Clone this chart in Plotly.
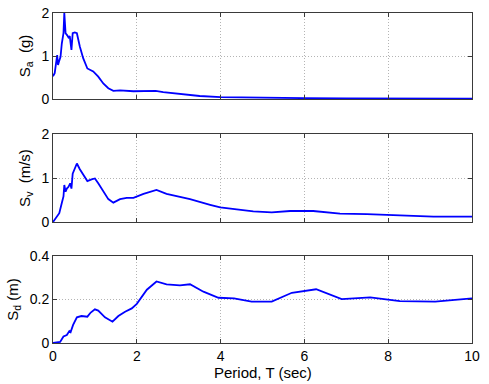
import plotly.graph_objects as go

period_sa = [0, 0.04, 0.10, 0.12, 0.14, 0.18, 0.21, 0.25, 0.27, 0.30, 0.34, 0.37, 0.40, 0.44, 0.47, 0.52,
             0.57, 0.64, 0.72, 0.82, 0.96, 1.08, 1.2, 1.32, 1.44, 1.6, 1.92, 2.31, 2.45, 2.63, 3.03, 3.5,
             4.0, 5.0, 6.0, 7.0, 8.0, 9.0, 10.0]
sa = [0.53, 0.6, 1.02, 0.79, 0.86, 0.98, 1.29, 1.53, 2.0, 1.53, 1.48, 1.43, 1.46, 1.14, 1.53, 1.55,
      1.53, 1.22, 0.95, 0.71, 0.64, 0.52, 0.36, 0.25, 0.19, 0.2, 0.18, 0.2, 0.19, 0.16, 0.12, 0.07,
      0.045, 0.025, 0.02, 0.015, 0.012, 0.01, 0.01]

period_sv = [0, 0.09, 0.15, 0.21, 0.25, 0.27, 0.30, 0.33, 0.37, 0.41, 0.44, 0.47, 0.53, 0.57, 0.64, 0.71,
             0.82, 0.92, 1.0, 1.08, 1.2, 1.32, 1.44, 1.6, 1.76, 1.92, 2.16, 2.47, 2.71, 3.27, 3.75, 3.99,
             4.78, 5.22, 5.66, 6.21, 6.85, 7.49, 8.28, 9.08, 10.0]
sv = [0, 0.12, 0.2, 0.43, 0.58, 0.84, 0.69, 0.76, 0.8, 0.88, 0.76, 1.1, 1.22, 1.33, 1.2, 1.1,
      0.93, 0.97, 0.99, 0.88, 0.69, 0.52, 0.44, 0.52, 0.55, 0.55, 0.64, 0.73, 0.64, 0.52, 0.39, 0.33,
      0.24, 0.22, 0.25, 0.25, 0.19, 0.18, 0.15, 0.12, 0.12]

period_sd = [0, 0.17, 0.25, 0.33, 0.39, 0.42, 0.48, 0.57, 0.68, 0.82, 0.9, 1.0, 1.08, 1.24, 1.42, 1.56,
             1.72, 1.88, 2.0, 2.24, 2.47, 2.71, 3.03, 3.27, 3.59, 3.95, 4.32, 4.74, 5.22, 5.7, 6.28, 6.89,
             7.57, 8.28, 9.12, 10.0]
sd = [0, 0.005, 0.03, 0.037, 0.055, 0.05, 0.083, 0.118, 0.124, 0.121, 0.14, 0.155, 0.149, 0.118, 0.098, 0.124,
      0.144, 0.159, 0.18, 0.245, 0.283, 0.27, 0.265, 0.27, 0.236, 0.208, 0.205, 0.19, 0.19, 0.231, 0.247, 0.202,
      0.21, 0.193, 0.19, 0.205]

x_ticks = [0, 2, 4, 6, 8, 10]
sa_ticks = [0, 1, 2]
sv_ticks = [0, 1, 2]
sd_ticks = [0, 0.2, 0.4]
sd_ticklabels = ["0", "0.2", "0.4"]
x_title = "Period, T (sec)"

FONT = "Liberation Sans, Arial, Helvetica, sans-serif"
line_style = dict(color="#0000ff", width=1.8)

fig = go.Figure()
fig.add_trace(go.Scatter(x=period_sa, y=sa, mode="lines", line=line_style, xaxis="x", yaxis="y"))
fig.add_trace(go.Scatter(x=period_sv, y=sv, mode="lines", line=line_style, xaxis="x2", yaxis="y2"))
fig.add_trace(go.Scatter(x=period_sd, y=sd, mode="lines", line=line_style, xaxis="x3", yaxis="y3"))

common_x = dict(range=[0, 10], tickvals=x_ticks, ticks="inside", ticklen=4, tickcolor="#3a3a3a",
                showline=True, linecolor="#3a3a3a", linewidth=1, mirror="ticks",
                showgrid=True, gridcolor="#b4b4b4", griddash="1px,2px", gridwidth=1, automargin=False,
                ticklabeloverflow="allow",
                zeroline=False, tickfont=dict(family=FONT, size=14, color="black"))
common_y = dict(ticks="inside", ticklen=4, tickcolor="#3a3a3a", automargin=False,
                showline=True, linecolor="#3a3a3a", linewidth=1, mirror="ticks",
                showgrid=True, gridcolor="#b4b4b4", griddash="1px,2px", gridwidth=1,
                ticklabeloverflow="allow",
                zeroline=False, tickfont=dict(family=FONT, size=14, color="black"),
                title_font=dict(family=FONT, size=15, color="black"), title_standoff=7)

fig.update_layout(
    width=489, height=384,
    margin=dict(l=53, r=17, t=13, b=41),
    paper_bgcolor="white", plot_bgcolor="white",
    showlegend=False,
    xaxis=dict(common_x, domain=[0, 1], anchor="y", showticklabels=False),
    xaxis2=dict(common_x, domain=[0, 1], anchor="y2", showticklabels=False),
    xaxis3=dict(common_x, domain=[0, 1], anchor="y3"),
    yaxis=dict(common_y, domain=[0.7394, 1.0], range=[0, 2], tickvals=sa_ticks, anchor="x",
               title=dict(text="S<sub>a</sub>  (g)")),
    yaxis2=dict(common_y, domain=[0.3667, 0.6333], range=[0, 2], tickvals=sv_ticks, anchor="x2",
                title=dict(text="S<sub>v</sub>  (m/s)")),
    yaxis3=dict(common_y, domain=[0, 0.2636], range=[0, 0.4], tickvals=sd_ticks, ticktext=sd_ticklabels,
                anchor="x3", title=dict(text="S<sub>d</sub> (m)")),
    annotations=[dict(text=x_title, xref="paper", yref="paper", x=0.5, y=-0.088,
                      xanchor="center", yanchor="middle", showarrow=False,
                      font=dict(family=FONT, size=15, color="black"))],
)

# Remove the default 8px page margin so the figure fills the window exactly.
fig.write_html("out.html", config={"displayModeBar": False},
               post_script="document.body.style.margin='0';document.documentElement.style.margin='0';")
